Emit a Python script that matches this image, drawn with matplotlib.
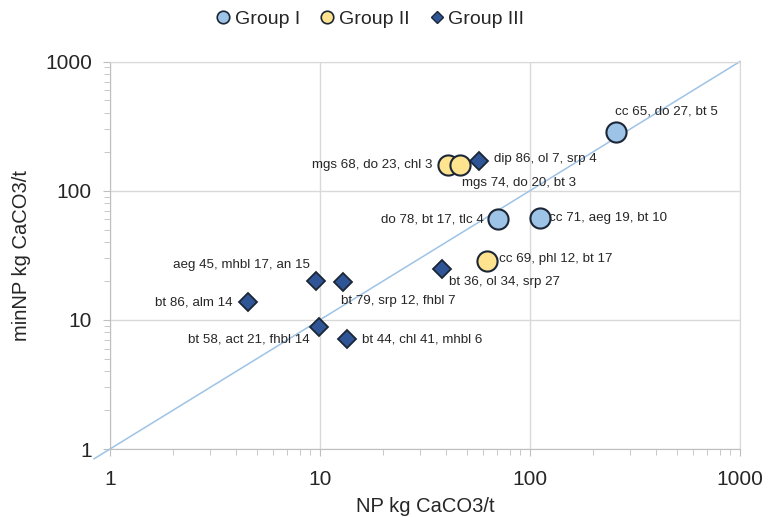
"""
plot.py

NP vs minNP scatter, log-log, with 1:1 line.
"""

# =====================================================
# IMPORT PACKAGES
# =====================================================

import numpy as np
import matplotlib

matplotlib.use("Agg")

import matplotlib.pyplot as plt
from matplotlib.lines import Line2D


# =====================================================
# DATA
# =====================================================

group1_np = [257, 70.7, 112]
group1_minnp = [283, 60, 62]
group1_labels = [
    "cc 65, do 27, bt 5",
    "do 78, bt 17, tlc 4",
    "cc 71, aeg 19, bt 10",
]

group2_np = [40.8, 46.2, 62.2]
group2_minnp = [158, 158, 28.7]
group2_labels = [
    "mgs 68, do 23, chl 3",
    "mgs 74, do 20, bt 3",
    "cc 69, phl 12, bt 17",
]

group3_np = [57.3, 9.54, 12.9, 4.53, 9.92, 13.4, 38.1]
group3_minnp = [170, 20.1, 19.5, 13.7, 8.75, 7.1, 24.6]
group3_labels = [
    "dip 86, ol 7, srp 4",
    "aeg 45, mhbl 17, an 15",
    "bt 79, srp 12, fhbl 7",
    "bt 86, alm 14",
    "bt 58, act 21, fhbl 14",
    "bt 44, chl 41, mhbl 6",
    "bt 36, ol 34, srp 27",
]

one_to_one = [0.84, 1000]

axis_ticks = [1, 10, 100, 1000]
axis_ticklabels = ["1", "10", "100", "1000"]

# label placement (pixel offset, horizontal alignment)
label_style = {
    "cc 65, do 27, bt 5": ((-1, 21), "left"),
    "do 78, bt 17, tlc 4": ((-15, 0), "right"),
    "cc 71, aeg 19, bt 10": ((9, 0), "left"),
    "mgs 68, do 23, chl 3": ((-16, 0), "right"),
    "mgs 74, do 20, bt 3": ((2, -18), "left"),
    "cc 69, phl 12, bt 17": ((12, 2), "left"),
    "dip 86, ol 7, srp 4": ((15, 2), "left"),
    "aeg 45, mhbl 17, an 15": ((-6, 16), "right"),
    "bt 79, srp 12, fhbl 7": ((-2, -19), "left"),
    "bt 86, alm 14": ((-15, 0), "right"),
    "bt 58, act 21, fhbl 14": ((-10, -12), "right"),
    "bt 44, chl 41, mhbl 6": ((15, 0), "left"),
    "bt 36, ol 34, srp 27": ((7, -13), "left"),
}


# =====================================================
# STYLE
# =====================================================

plt.rcParams["font.family"] = ["Liberation Sans", "DejaVu Sans"]

TEXT = "#262626"
GRID = "#d9d9d9"
AXIS = "#bfbfbf"
EDGE = "#1b2636"

C1 = "#9dc3e6"
C2 = "#ffe38f"
C3 = "#2f5597"


# =====================================================
# FIGURE
# =====================================================

fig = plt.figure(figsize=(7.75, 5.17), dpi=100)

ax = fig.add_axes([0.1419, 0.1315, 0.8129, 0.7495])

ax.set_xscale("log")

ax.set_yscale("log")

ax.set_xlim(1, 1000)

ax.set_ylim(1, 1000)

ax.plot(
    one_to_one,
    one_to_one,
    color="#9dc3e6",
    linewidth=1.1,
    clip_on=False,
    zorder=2
)

ax.plot(
    group1_np,
    group1_minnp,
    linestyle="none",
    marker="o",
    markersize=14.5,
    markerfacecolor=C1,
    markeredgecolor=EDGE,
    markeredgewidth=1.5,
    zorder=3
)

ax.plot(
    group2_np,
    group2_minnp,
    linestyle="none",
    marker="o",
    markersize=14.5,
    markerfacecolor=C2,
    markeredgecolor=EDGE,
    markeredgewidth=1.5,
    zorder=3
)

ax.plot(
    group3_np,
    group3_minnp,
    linestyle="none",
    marker="D",
    markersize=9.5,
    markerfacecolor=C3,
    markeredgecolor=EDGE,
    markeredgewidth=1.3,
    zorder=4
)


# =====================================================
# POINT LABELS
# =====================================================

all_np = group1_np + group2_np + group3_np

all_minnp = group1_minnp + group2_minnp + group3_minnp

all_labels = group1_labels + group2_labels + group3_labels

for xv, yv, lab in zip(all_np, all_minnp, all_labels):

    offset, ha = label_style[lab]

    ax.annotate(
        lab,
        xy=(xv, yv),
        xytext=offset,
        textcoords="offset pixels",
        ha=ha,
        va="center",
        fontsize=9.6,
        color=TEXT,
        zorder=5
    )


# =====================================================
# AXES
# =====================================================

ax.set_xticks(axis_ticks)

ax.set_xticklabels(axis_ticklabels)

ax.set_yticks(axis_ticks)

ax.set_yticklabels(axis_ticklabels)

ax.grid(True, which="major", color=GRID, linewidth=1)

ax.set_axisbelow(True)

for side in ["top", "right"]:

    ax.spines[side].set_color(GRID)

for side in ["left", "bottom"]:

    ax.spines[side].set_color(AXIS)

ax.tick_params(
    which="major",
    length=5,
    color=AXIS,
    labelsize=15,
    labelcolor=TEXT,
    pad=8
)

ax.tick_params(
    which="minor",
    length=4,
    color=AXIS
)

ax.tick_params(axis="x", which="major", pad=10)

ax.set_xlabel(
    "NP kg CaCO3/t",
    fontsize=14.5,
    color=TEXT,
    labelpad=6
)

ax.set_ylabel(
    "minNP kg CaCO3/t",
    fontsize=14.5,
    color=TEXT,
    labelpad=10
)


# =====================================================
# LEGEND
# =====================================================

handles = [
    Line2D([], [], linestyle="none", marker="o", markersize=9,
           markerfacecolor=C1, markeredgecolor=EDGE, markeredgewidth=1.2),
    Line2D([], [], linestyle="none", marker="o", markersize=9,
           markerfacecolor=C2, markeredgecolor=EDGE, markeredgewidth=1.2),
    Line2D([], [], linestyle="none", marker="D", markersize=6.5,
           markerfacecolor=C3, markeredgecolor=EDGE, markeredgewidth=1.0),
]

fig.legend(
    handles,
    ["Group I", "Group II", "Group III"],
    loc="center",
    bbox_to_anchor=(0.477, 0.963),
    ncol=3,
    frameon=False,
    fontsize=14,
    handlelength=0.8,
    handletextpad=0.2,
    columnspacing=1.0,
    labelcolor=TEXT
)

fig.savefig("out.png", dpi=100)
